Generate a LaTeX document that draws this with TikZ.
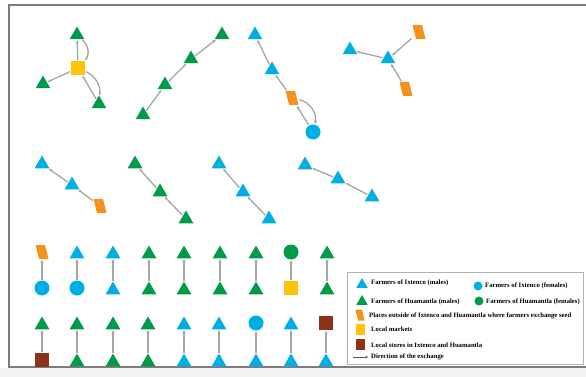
\documentclass[tikz,border=0pt]{standalone}
\usepackage{fontspec}
\setmainfont{Liberation Serif}
\usetikzlibrary{shapes.geometric,arrows.meta}
\definecolor{cblue}{RGB}{0,174,230}
\definecolor{cgreen}{RGB}{0,155,72}
\definecolor{corange}{RGB}{245,146,30}
\definecolor{cyellow}{RGB}{255,196,10}
\definecolor{cbrown}{RGB}{140,52,26}
\definecolor{cgray}{RGB}{165,165,165}
\definecolor{cframe}{RGB}{125,125,125}
\tikzset{
  base/.style={inner sep=0pt, outer sep=0pt, draw=none},
  tri/.style={base, regular polygon, regular polygon sides=3, minimum size=17pt, yshift=-2pt},
  btri/.style={tri, fill=cblue},
  gtri/.style={tri, fill=cgreen},
  bcir/.style={base, circle, minimum size=15pt, fill=cblue},
  gcir/.style={base, circle, minimum size=15pt, fill=cgreen},
  ysq/.style={base, rectangle, minimum size=14pt, fill=cyellow},
  rsq/.style={base, rectangle, minimum size=14pt, fill=cbrown},
  parashape/.style={base, rectangle, path picture={
      \fill[corange] ([xshift=#1]path picture bounding box.south west)
        -- (path picture bounding box.south east)
        -- ([xshift=-#1]path picture bounding box.north east)
        -- (path picture bounding box.north west) -- cycle;}},
  opar/.style={parashape=3.5pt, minimum width=13pt, minimum height=14pt},
  ltri/.style={base, regular polygon, regular polygon sides=3, minimum size=13pt, yshift=-1.5pt},
  lcir/.style={base, circle, minimum size=9pt},
  lsq/.style={base, rectangle, minimum width=9pt, minimum height=11pt},
  conn/.style={draw=cgray, line width=1.3pt, shorten <=1pt, shorten >=1pt, -{Stealth[length=3pt,width=3pt]}},
  legtext/.style={anchor=west, inner sep=0pt, font=\fontsize{6.7}{8}\selectfont\bfseries},
}
\begin{document}
\begin{tikzpicture}[x=1pt, y=-1pt]
\useasboundingbox (0,0) rectangle (586,377);
\clip (0,0) rectangle (586,377);
% outer frame
\fill[gray!10] (0,368) rectangle (586,377);
\draw[cframe, line width=1.8pt] (9,5) rectangle (592,367);

% cluster 1
\node[ysq] (m1) at (78,68) {};
\node[gtri] (c1a) at (77,33) {};
\node[gtri] (c1b) at (43,82) {};
\node[gtri] (c1c) at (99,102) {};
\draw[conn] (m1) -- (c1a);
\draw[conn] (c1a) to[bend left=45] (m1);
\draw[conn] (m1) -- (c1b);
\draw[conn] (c1c) -- (m1);
\draw[conn] (m1) to[bend left=35] (c1c);

% cluster 2
\node[gtri] (c2a) at (222,33) {};
\node[gtri] (c2b) at (191,57) {};
\node[gtri] (c2c) at (165,83) {};
\node[gtri] (c2d) at (143,113) {};
\draw[conn] (c2b) -- (c2a);
\draw[conn] (c2c) -- (c2b);
\draw[conn] (c2d) -- (c2c);

% cluster 3
\node[btri] (c3a) at (255,33) {};
\node[btri] (c3b) at (272,68) {};
\node[opar] (c3c) at (292,98) {};
\node[bcir] (c3d) at (313,132) {};
\draw[conn] (c3b) -- (c3a);
\draw[conn] (c3c) -- (c3b);
\draw[conn] (c3d) -- (c3c);
\draw[conn] (c3c) to[bend left=45] (c3d);

% cluster 4
\node[btri] (c4a) at (350,48) {};
\node[btri] (c4b) at (388,57) {};
\node[opar] (c4c) at (419,32) {};
\node[opar] (c4d) at (406,89) {};
\draw[conn] (c4b) -- (c4a);
\draw[conn] (c4c) -- (c4b);
\draw[conn] (c4d) -- (c4b);

% cluster 5
\node[btri] (c5a) at (42,162) {};
\node[btri] (c5b) at (72,183) {};
\node[opar] (c5c) at (100,206) {};
\draw[conn] (c5b) -- (c5a);
\draw[conn] (c5c) -- (c5b);

% cluster 6
\node[gtri] (c6a) at (135,162) {};
\node[gtri] (c6b) at (160,190) {};
\node[gtri] (c6c) at (186,217) {};
\draw[conn] (c6b) -- (c6a);
\draw[conn] (c6c) -- (c6b);

% cluster 7
\node[btri] (c7a) at (219,162) {};
\node[btri] (c7b) at (243,190) {};
\node[btri] (c7c) at (269,217) {};
\draw[conn] (c7b) -- (c7a);
\draw[conn] (c7c) -- (c7b);

% cluster 8
\node[btri] (c8a) at (305,163) {};
\node[btri] (c8b) at (338,177) {};
\node[btri] (c8c) at (372,195) {};
\draw[conn] (c8b) -- (c8a);
\draw[conn] (c8c) -- (c8b);

% row 3 pairs
\node[opar] (p1t) at (42,252) {};  \node[bcir] (p1b) at (42,288) {};
\node[btri] (p2t) at (77,252) {};  \node[bcir] (p2b) at (77,288) {};
\node[btri] (p3t) at (113,252) {}; \node[btri] (p3b) at (113,288) {};
\node[gtri] (p4t) at (149,252) {}; \node[gtri] (p4b) at (149,288) {};
\node[gtri] (p5t) at (184,252) {}; \node[gtri] (p5b) at (184,288) {};
\node[gtri] (p6t) at (220,252) {}; \node[gtri] (p6b) at (220,288) {};
\node[gtri] (p7t) at (256,252) {}; \node[gtri] (p7b) at (256,288) {};
\node[gcir] (p8t) at (291,252) {}; \node[ysq] (p8b) at (291,288) {};
\node[gtri] (p9t) at (327,252) {}; \node[gtri] (p9b) at (327,288) {};
\foreach \i in {1,...,9} { \draw[conn] (p\i b) -- (p\i t); }

% row 4 pairs
\node[gtri] (q1t) at (42,323) {};  \node[rsq] (q1b) at (42,360) {};
\node[gtri] (q2t) at (77,323) {};  \node[gtri] (q2b) at (77,360) {};
\node[gtri] (q3t) at (113,323) {}; \node[gtri] (q3b) at (113,360) {};
\node[gtri] (q4t) at (148,323) {}; \node[gtri] (q4b) at (148,360) {};
\node[btri] (q5t) at (184,323) {}; \node[btri] (q5b) at (184,360) {};
\node[btri] (q6t) at (219,323) {}; \node[btri] (q6b) at (219,360) {};
\node[bcir] (q7t) at (256,323) {}; \node[btri] (q7b) at (256,360) {};
\node[btri] (q8t) at (291,323) {}; \node[btri] (q8b) at (291,360) {};
\node[rsq] (q9t) at (326,323) {};  \node[btri] (q9b) at (326,360) {};
\foreach \i in {1,...,9} { \draw[conn] (q\i b) -- (q\i t); }

% legend
\node[draw=gray!60, line width=0.6pt, fill=white, minimum width=236pt, minimum height=92pt, inner sep=0pt, anchor=north west] (leg) at (347,272) {};
\node[ltri, fill=cblue] (l1) at (362,283) {};
\node[legtext] (t1) at (371,283) {Farmers of Ixtenco (males)};
\node[lcir, fill=cblue] (l2) at (478,286) {};
\node[legtext] (t2) at (485,286) {Farmers of Ixtenco (females)};
\node[ltri, fill=cgreen] (l3) at (362,300) {};
\node[legtext] (t3) at (371,302) {Farmers of Huamantla (males)};
\node[lcir, fill=cgreen] (l4) at (479,301) {};
\node[legtext] (t4) at (486,302) {Farmers of Huamantla (females)};
\node[parashape=2.5pt, minimum width=9pt, minimum height=11pt] (l5) at (360,315) {};
\node[legtext] (t5) at (369,316) {Places outside of Ixtenco and Huamantla where farmers exchange seed};
\node[lsq, fill=cyellow] (l6) at (360,329) {};
\node[legtext] (t6) at (371,329) {Local markets};
\node[lsq, fill=cbrown] (l7) at (360,344) {};
\node[legtext] (t7) at (371,345) {Local stores in Ixtenco and Huamantla};
\coordinate (l8a) at (353,357);
\coordinate (l8b) at (368,357);
\draw[draw=gray!70!black, line width=0.8pt, -{Stealth[length=2.5pt,width=2.5pt]}] (l8a) -- (l8b);
\node[legtext] (t8) at (371,357) {Direction of the exchange};
\end{tikzpicture}
\end{document}
